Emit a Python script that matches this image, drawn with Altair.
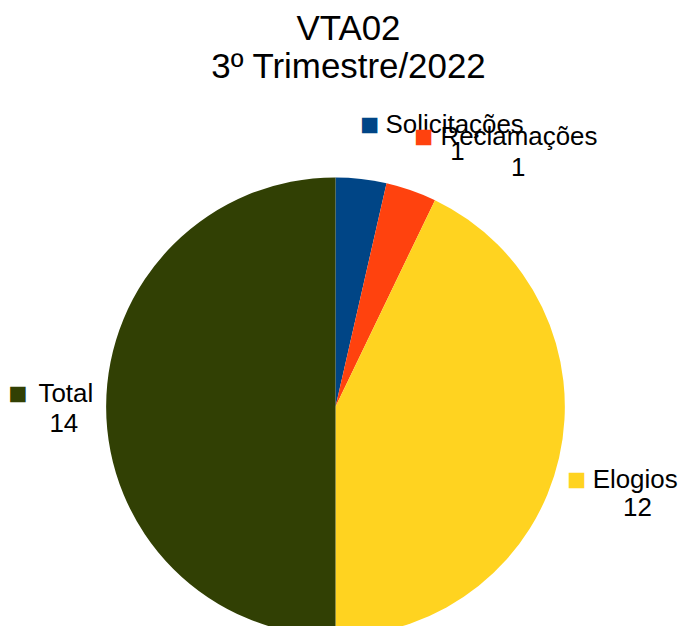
import math
import altair as alt
import pandas as pd

# ---- data ----
categories = ["Solicitações", "Reclamações", "Elogios", "Total"]
values = [1, 1, 12, 14]
colors = ["#004586", "#ff420e", "#ffd320", "#314004"]
title_lines = ["VTA02", "3º Trimestre/2022"]

df = pd.DataFrame({
    "category": categories,
    "value": values,
    "order": list(range(len(categories))),
    "label": [str(v) for v in values],
})
total = sum(values)

FONT = "Liberation Sans"
PIE_R = 230
LABEL_R = 243
LABEL_FS = 26

theta_scale = alt.Scale(domain=[0, total], range=[0, 2 * math.pi])
color_scale = alt.Scale(domain=categories, range=colors)

base = alt.Chart(df)

pie = base.mark_arc(outerRadius=PIE_R).encode(
    theta=alt.Theta("value:Q", stack=True, scale=theta_scale),
    color=alt.Color("category:N", scale=color_scale, legend=None),
    order=alt.Order("order:Q"),
)

lab = base.transform_window(
    cum="sum(value)", sort=[alt.SortField("order")]
).transform_calculate(mid="datum.cum - datum.value / 2")

# label layout offsets (style): square, name, value relative to the polar anchor
layout = {
    "Solicitações": dict(sq=(7, -41), name=(23, -33.5), name_align="left", val=(95, -5.5)),
    "Reclamações": dict(sq=(8, -41.5), name=(25, -33.5), name_align="left", val=(103, -2.5)),
    "Elogios": dict(sq=(5, 19), name=(21, 27), name_align="left", val=(66, 56)),
    "Total": dict(sq=(-75.5, -12.5), name=(0, -5), name_align="right", val=(-29.5, 25)),
}

layers = [pie]
th = alt.Theta("mid:Q", scale=theta_scale)
for cat in categories:
    L = layout[cat]
    d = lab.transform_filter(alt.datum.category == cat)
    sq = d.mark_text(
        radius=LABEL_R, text="■", font=FONT, fontSize=32, align="center",
        baseline="middle", dx=L["sq"][0], dy=L["sq"][1],
    ).encode(theta=th, color=alt.Color("category:N", scale=color_scale, legend=None))
    nm = d.mark_text(
        radius=LABEL_R, font=FONT, fontSize=LABEL_FS, align=L["name_align"],
        baseline="alphabetic", dx=L["name"][0], dy=L["name"][1], color="black",
    ).encode(theta=th, text="category:N")
    vl = d.mark_text(
        radius=LABEL_R, font=FONT, fontSize=LABEL_FS, align="center",
        baseline="alphabetic", dx=L["val"][0], dy=L["val"][1], color="black",
    ).encode(theta=th, text="label:N")
    layers += [sq, nm, vl]

chart = alt.layer(*layers).properties(
    width=657,
    height=438,
    title=alt.TitleParams(
        text=title_lines, font=FONT, fontSize=35, fontWeight="normal",
        color="black", anchor="middle", frame="group", offset=24, lineHeight=38,
        dx=13,
    ),
    autosize=alt.AutoSizeParams(type="none"),
    padding={"left": 0, "top": 180, "right": 15, "bottom": 0},
).configure_view(stroke=None)

chart.save("out.html", embed_options={"renderer": "svg", "actions": False})
